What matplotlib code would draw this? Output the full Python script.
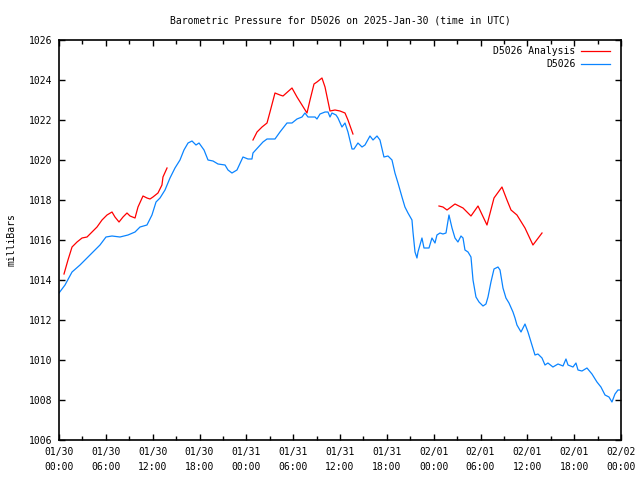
import matplotlib
matplotlib.use("Agg")
import matplotlib.pyplot as plt
import numpy as np
from datetime import datetime, timedelta

# hours since 2025-01-30 00:00 UTC
obs_hours = [0.0, 0.77, 1.67, 2.69, 3.72, 4.61, 5.25, 6.02, 6.79, 7.81, 8.84, 9.74,
             10.38, 11.27, 11.91, 12.43, 12.94, 13.58, 14.22, 14.86, 15.50, 16.01,
             16.53, 17.04, 17.55, 17.94, 18.58, 19.09, 19.73, 20.37, 21.27, 21.65,
             22.16, 22.80, 23.57, 24.21, 24.72, 24.85, 26.13, 26.65, 27.67, 28.31,
             29.21, 29.85, 30.49, 31.13, 31.51, 31.90, 32.80, 33.05, 33.44, 34.08,
             34.46, 34.72, 34.97, 35.49, 35.74, 36.25, 36.64, 37.02, 37.54, 37.79,
             38.30, 38.82, 39.20, 39.84, 40.23, 40.74, 41.12, 41.63, 42.15, 42.66,
             43.04, 43.43, 43.94, 44.32, 44.71, 45.22, 45.35, 45.61, 45.86, 45.99,
             46.25, 46.50, 46.76, 47.40, 47.78, 48.17, 48.42, 48.81, 49.19, 49.58,
             49.71, 49.96, 50.35, 50.73, 51.11, 51.50, 51.76, 52.01, 52.40, 52.78,
             53.04, 53.42, 53.81, 54.32, 54.70, 54.96, 55.34, 55.73, 56.24, 56.50,
             56.88, 57.26, 57.65, 58.16, 58.42, 58.67, 59.19, 59.70, 60.08, 60.59,
             60.98, 61.36, 61.88, 62.26, 62.64, 63.28, 63.93, 64.57, 64.95, 65.21,
             65.85, 66.23, 66.49, 67.00, 67.64, 68.28, 68.92, 69.43, 69.95, 70.46,
             70.84, 71.23, 71.61, 71.87]
obs_mb = [1013.35, 1013.75, 1014.40, 1014.75, 1015.15, 1015.50, 1015.75, 1016.15,
          1016.20, 1016.15, 1016.25, 1016.40, 1016.65, 1016.75, 1017.25, 1017.90,
          1018.10, 1018.50, 1019.10, 1019.60, 1020.00, 1020.50, 1020.85, 1020.95,
          1020.75, 1020.85, 1020.50, 1020.00, 1019.95, 1019.80, 1019.75, 1019.50,
          1019.35, 1019.50, 1020.15, 1020.05, 1020.05, 1020.35, 1020.90, 1021.05,
          1021.05, 1021.40, 1021.85, 1021.85, 1022.05, 1022.15, 1022.35, 1022.15,
          1022.15, 1022.05, 1022.30, 1022.40, 1022.40, 1022.15, 1022.35, 1022.25,
          1022.10, 1021.65, 1021.85, 1021.40, 1020.55, 1020.55, 1020.85, 1020.65,
          1020.75, 1021.20, 1021.00, 1021.20, 1021.00, 1020.15, 1020.20, 1020.00,
          1019.35, 1018.85, 1018.15, 1017.65, 1017.35, 1017.00, 1016.40, 1015.40,
          1015.10, 1015.40, 1015.75, 1016.10, 1015.60, 1015.60, 1016.10, 1015.85,
          1016.25, 1016.35, 1016.30, 1016.35, 1016.65, 1017.25, 1016.60, 1016.10,
          1015.90, 1016.20, 1016.10, 1015.50, 1015.40, 1015.15, 1014.00, 1013.15,
          1012.90, 1012.70, 1012.80, 1013.15, 1013.90, 1014.55, 1014.65, 1014.50,
          1013.60, 1013.10, 1012.85, 1012.40, 1012.10, 1011.75, 1011.40, 1011.80,
          1011.40, 1010.75, 1010.25, 1010.30, 1010.10, 1009.75, 1009.85, 1009.65,
          1009.80, 1009.70, 1010.05, 1009.75, 1009.65, 1009.85, 1009.50, 1009.45,
          1009.60, 1009.30, 1008.90, 1008.65, 1008.25, 1008.15, 1007.90, 1008.30,
          1008.50, 1008.50]

# analysis runs (three separate pieces)
an1_hours = [0.64, 1.15, 1.67, 2.31, 2.95, 3.59, 4.23, 4.87, 5.51, 6.15, 6.79, 7.17,
             7.69, 8.20, 8.71, 9.10, 9.74, 10.12, 10.76, 11.27, 11.66, 12.04, 12.68,
             13.19, 13.32, 13.84]
an1_mb = [1014.30, 1015.00, 1015.65, 1015.90, 1016.10, 1016.15, 1016.40, 1016.65,
          1017.00, 1017.25, 1017.40, 1017.15, 1016.90, 1017.15, 1017.35, 1017.20,
          1017.10, 1017.65, 1018.20, 1018.10, 1018.05, 1018.15, 1018.35, 1018.75,
          1019.15, 1019.60]
an2_hours = [24.85, 25.37, 26.01, 26.65, 27.03, 27.67, 28.31, 28.70, 29.85, 30.49,
             31.13, 31.77, 32.16, 32.67, 33.05, 33.69, 34.08, 34.72, 35.36, 36.00,
             36.64, 37.02, 37.66]
an2_mb = [1021.00, 1021.40, 1021.65, 1021.85, 1022.40, 1023.35, 1023.25, 1023.20,
          1023.60, 1023.15, 1022.75, 1022.35, 1023.00, 1023.80, 1023.90, 1024.10,
          1023.65, 1022.45, 1022.50, 1022.45, 1022.35, 1022.00, 1021.30]
an3_hours = [48.68, 49.19, 49.71, 50.22, 50.73, 51.24, 51.76, 52.27, 52.78, 53.68,
             54.83, 55.73, 56.75, 57.39, 57.91, 58.67, 59.70, 60.72, 61.88]
an3_mb = [1017.70, 1017.65, 1017.50, 1017.65, 1017.80, 1017.70, 1017.60, 1017.40,
          1017.20, 1017.70, 1016.75, 1018.10, 1018.65, 1018.00, 1017.50, 1017.25,
          1016.60, 1015.75, 1016.35]

start = datetime(2025, 1, 30, 0, 0)
tick_hours = list(range(0, 73, 6))
tick_labels = [(start + timedelta(hours=h)).strftime("%m/%d\n%H:%M") for h in tick_hours]

plt.rcParams['font.family'] = ['DejaVu Sans Mono']
plt.rcParams['font.size'] = 7

fig = plt.figure(figsize=(6.4, 4.8), dpi=100)
ax = fig.add_axes([59 / 640, 40 / 480, 562 / 640, 400 / 480])

red = '#ff0000'
blue = '#0a84ff'
ax.plot(an1_hours, an1_mb, color=red, lw=0.9, label='D5026 Analysis')
ax.plot(an2_hours, an2_mb, color=red, lw=0.9)
ax.plot(an3_hours, an3_mb, color=red, lw=0.9)
ax.plot(obs_hours, obs_mb, color=blue, lw=0.9, label='D5026')

ax.set_xlim(0, 72)
ax.set_ylim(1006, 1026)
ax.set_xticks(tick_hours)
ax.set_xticklabels(tick_labels, linespacing=1.6)
ax.set_xticks(range(3, 72, 6), minor=True)
ax.set_yticks(range(1006, 1027, 2))

ax.tick_params(which='both', direction='in', top=True, right=True, width=1,
               color='black', labelsize=7)
ax.tick_params(which='major', length=4.5, pad=5)
ax.tick_params(which='minor', length=3)
for s in ax.spines.values():
    s.set_linewidth(1.2)

ax.set_title('Barometric Pressure for D5026 on 2025-Jan-30 (time in UTC)',
             fontsize=7, pad=12)
ax.set_ylabel('milliBars', fontsize=7, labelpad=9)

leg = ax.legend(loc='upper right', bbox_to_anchor=(1 - 10 / 562, 1 - 5 / 400),
                frameon=False, markerfirst=False,
                handlelength=2.9, handletextpad=0.6, labelspacing=0.3,
                borderaxespad=0, borderpad=0.15, fontsize=7)
for t in leg.get_texts():
    t.set_ha('right')

fig.savefig('out.png', dpi=100)
